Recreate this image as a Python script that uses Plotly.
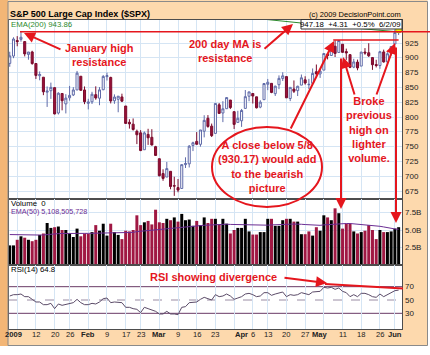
import plotly.graph_objects as go

W, H = 430, 355
RED = '#e5161d'
GRID = '#d5e5f4'
FONT = 'Liberation Sans, Arial, sans-serif'

# ---------------- data (Dec 31 2008 .. Jun 2 2009, one entry per trading day) -------------
opens = [890.59, 902.99, 929.17, 931.17, 927.45, 905.73, 909.91, 890.40, 869.79, 867.28, 841.99, 844.45, 849.64, 806.77, 839.74, 822.16, 832.50, 837.30, 845.73, 868.89, 845.69,
         823.09, 825.69, 837.77, 831.75, 846.09, 868.24, 866.87, 827.41, 829.91, 833.95, 818.61, 791.06, 787.91, 775.87, 773.25, 744.69, 770.64, 765.76, 749.93,
         729.57, 704.44, 698.60, 708.27, 684.04, 680.76, 679.28, 719.59, 720.89, 751.97, 758.84, 753.88, 776.01, 797.92, 784.58, 772.31, 820.60, 806.81, 814.06, 828.68, 809.07, 790.88,
         793.59, 814.53, 835.13, 839.75, 834.12, 816.76, 829.29, 855.33, 856.88, 839.44, 854.54, 865.18, 868.27, 831.25, 847.26, 844.62, 853.91, 862.82, 854.48, 856.85, 876.59,
         872.74, 879.21, 906.10, 903.95, 919.58, 909.03, 922.99, 910.52, 905.40, 884.24, 892.76, 886.07, 909.67, 908.62, 900.42, 888.68, 887.00, 909.95, 892.96, 907.02,
         923.26, 942.87]
highs = [910.32, 934.73, 936.63, 943.85, 927.45, 910.00, 911.93, 890.40, 877.02, 867.28, 851.59, 858.13, 849.64, 841.72, 839.74, 838.61, 852.53, 850.45, 877.86, 868.89, 851.66,
         830.78, 842.60, 851.85, 850.55, 870.75, 875.01, 868.05, 838.22, 835.48, 839.43, 818.61, 796.17, 797.58, 778.69, 777.85, 775.49, 780.12, 779.42, 751.27,
         729.57, 711.67, 724.12, 708.27, 699.09, 695.27, 719.60, 731.92, 752.63, 758.29, 774.53, 778.12, 803.04, 803.24, 788.91, 823.37, 823.65, 826.78, 832.98, 828.68, 809.07, 810.48,
         813.62, 845.61, 842.50, 839.75, 834.12, 828.42, 856.91, 864.31, 856.88, 852.93, 870.35, 875.63, 868.27, 850.09, 861.78, 852.87, 871.80, 868.83, 864.48, 882.06, 888.70,
         880.48, 907.85, 907.70, 920.28, 929.58, 930.17, 922.99, 915.57, 905.40, 898.36, 896.97, 910.00, 916.39, 924.60, 900.42, 896.65, 911.76, 913.84, 909.45, 920.02,
         947.77, 949.38]
lows = [884.88, 899.35, 919.53, 927.28, 902.37, 896.81, 888.31, 864.32, 862.02, 836.93, 817.04, 830.66, 804.47, 804.30, 811.29, 806.07, 827.69, 835.40, 845.73, 844.15, 821.67,
        812.87, 821.98, 829.18, 819.91, 845.42, 861.65, 822.99, 822.30, 808.06, 825.21, 789.17, 780.43, 777.03, 754.25, 742.37, 744.69, 752.89, 751.75, 734.52,
        699.70, 692.30, 698.60, 677.93, 666.79, 672.88, 679.28, 713.85, 714.76, 742.46, 753.37, 749.93, 765.64, 781.82, 766.20, 772.31, 805.48, 791.37, 814.06, 813.43, 779.81, 790.88,
        783.32, 814.53, 826.70, 822.79, 814.53, 814.84, 829.29, 845.35, 840.25, 835.58, 847.04, 860.87, 832.39, 826.83, 840.57, 835.45, 853.91, 854.65, 847.12, 856.85, 868.51,
        866.10, 879.21, 897.34, 903.95, 901.36, 909.03, 908.68, 896.46, 882.52, 882.52, 878.94, 886.07, 905.22, 901.37, 879.61, 883.75, 881.46, 891.87, 887.60, 903.56,
        923.26, 938.46]
closes = [903.25, 931.80, 927.45, 934.70, 906.65, 909.73, 890.35, 870.26, 871.79, 842.62, 843.74, 850.12, 805.22, 840.24, 827.50, 831.95, 836.57, 845.71, 874.09, 845.14, 825.88,
          825.44, 838.51, 832.23, 845.85, 868.60, 869.89, 827.16, 833.74, 835.19, 826.84, 789.17, 788.42, 778.94, 770.05, 743.33, 773.14, 764.90, 752.83, 735.09,
          700.82, 696.33, 712.87, 682.55, 683.38, 676.53, 719.60, 721.36, 750.74, 756.55, 753.89, 778.12, 794.35, 784.04, 768.54, 822.92, 806.12, 813.88, 832.86, 815.94, 787.53, 797.87,
          811.08, 834.38, 842.50, 835.48, 815.55, 825.16, 856.56, 858.73, 841.50, 852.06, 865.30, 869.60, 832.39, 850.08, 843.55, 851.92, 866.23, 857.51, 855.16, 873.64, 872.81,
          877.52, 907.24, 903.80, 919.53, 907.39, 929.23, 909.24, 908.35, 883.92, 893.07, 882.88, 909.71, 908.13, 903.47, 888.33, 887.00, 910.33, 893.06, 906.83, 919.14,
          942.87, 947.18]
ema200 = [1097.0, 1095.4, 1093.8, 1092.3, 1090.4, 1088.6, 1086.6, 1084.4, 1082.2, 1079.7, 1077.3, 1075.0, 1072.2, 1069.9, 1067.4, 1065.0, 1062.7, 1060.5, 1058.5, 1056.0, 1053.5,
          1051.0, 1048.8, 1046.5, 1044.4, 1042.5, 1040.6, 1038.3, 1036.0, 1033.8, 1031.5, 1028.8, 1026.2, 1023.6, 1020.9, 1018.0, 1015.6, 1013.2, 1010.6, 1007.9,
          1006.0, 1003.4, 1000.9, 998.3, 995.8, 993.3, 991.1, 989.0, 987.1, 985.4, 983.7, 982.1, 980.7, 979.2, 977.7, 976.7, 975.6, 974.6, 973.7, 972.7, 971.6, 970.6,
          969.7, 968.9, 968.2, 967.5, 966.6, 965.8, 965.2, 964.5, 963.7, 963.0, 962.4, 961.8, 960.9, 960.2, 959.5, 958.8, 958.2, 957.5, 956.8, 956.3, 955.8,
          955.0, 954.5, 954.0, 953.5, 953.0, 952.5, 952.0, 951.4, 950.8, 950.2, 949.6, 949.0, 948.4, 947.8, 947.2, 946.6, 946.0, 945.5, 945.0, 944.6,
          944.2, 943.86]
volume_b = [2.8, 2.8, 3.6, 4.1, 3.9, 3.6, 3.4, 3.6, 4.3, 4.5, 6.0, 5.3, 5.4, 5.5, 5.0, 5.0, 4.5, 4.0, 5.2, 4.1, 4.5,
            4.45, 4.7, 5.7, 4.9, 5.9, 4.2, 5.9, 4.7, 4.3, 3.7, 4.9, 4.8, 5.0, 7.1, 5.7, 6.1, 6.3, 5.8, 7.9,
            6.1, 6.0, 6.6, 6.4, 6.8, 6.2, 7.3, 6.4, 6.5, 5.6, 6.3, 5.7, 6.8, 6.0, 6.6, 6.6, 5.8, 6.6, 5.9, 4.5, 5.0, 5.3,
            5.3, 6.6, 4.8, 4.35, 4.35, 4.7, 4.7, 6.6, 6.6, 5.6, 5.6, 6.4, 6.6, 6.6, 6.2, 6.2, 4.4, 4.4, 4.8, 4.2, 5.4,
            4.9, 7.1, 6.8, 6.4, 8.1, 7.4, 5.2, 5.9, 5.9, 4.8, 4.5, 4.7, 4.9, 5.7, 5.0, 3.7, 5.0, 4.7, 4.7, 4.8,
            5.2, 5.4]
vol_ema50_b = [4.35, 4.33, 4.32, 4.31, 4.31, 4.30, 4.29, 4.28, 4.28, 4.29, 4.36, 4.40, 4.44, 4.48, 4.50, 4.52, 4.52, 4.50, 4.53, 4.52, 4.52,
               4.52, 4.53, 4.58, 4.59, 4.64, 4.62, 4.67, 4.68, 4.66, 4.63, 4.64, 4.65, 4.66, 4.77, 4.82, 4.88, 4.94, 4.98, 5.10,
               5.14, 5.18, 5.24, 5.29, 5.35, 5.39, 5.47, 5.51, 5.56, 5.58, 5.61, 5.63, 5.68, 5.70, 5.74, 5.78, 5.78, 5.82, 5.83, 5.80, 5.78, 5.77,
               5.76, 5.80, 5.77, 5.73, 5.69, 5.67, 5.65, 5.69, 5.73, 5.73, 5.73, 5.76, 5.80, 5.83, 5.85, 5.87, 5.82, 5.78, 5.75, 5.70, 5.70,
               5.67, 5.73, 5.77, 5.80, 5.89, 5.95, 5.93, 5.93, 5.93, 5.89, 5.84, 5.79, 5.75, 5.72, 5.67, 5.58, 5.53, 5.44, 5.33, 5.22,
               5.15, 5.11]
rsi14 = [56, 58, 58, 59, 55, 55, 51, 47, 47, 43, 43, 45, 37, 44, 42, 43, 44, 46, 51, 46, 43,
         43, 45, 44, 47, 52, 53, 46, 47, 47, 46, 39, 39, 37, 36, 31, 39, 37, 35, 33,
         29, 29, 33, 29, 29, 28, 39, 40, 46, 47, 47, 51, 54, 52, 50, 58, 55, 56, 59, 56, 51, 53,
         55, 59, 60, 58, 55, 56, 61, 61, 57, 59, 61, 62, 55, 58, 57, 58, 61, 59, 58, 62, 62,
         63, 69, 68, 69, 66, 68, 63, 61, 55, 58, 55, 60, 60, 58, 55, 54, 59, 55, 58, 60,
         64, 64.8]

day_idx = list(range(-1, len(closes) - 1))
for arr in (opens, highs, lows, ema200, volume_b, vol_ema50_b, rsi14):
    assert len(arr) == len(closes), len(arr)

price_ticks = [675, 700, 725, 750, 775, 800, 825, 850, 875, 900, 925]
vol_ticks = [2.5, 5.0, 7.5]
vol_tick_text = ['2.5B', '5.0B', '7.5B']
rsi_ticks = [30, 50, 70]
tick_pos = [0, 6, 11, 15, 20, 25, 30, 34, 39, 44, 49, 54, 61, 64, 68, 73, 78, 82, 88, 93, 98, 102]
tick_text = ['<b>2009</b>', '12', '20', '26', '<b>Feb</b>', '9', '17', '23', '<b>Mar</b>', '9', '16', '23',
             '<b>Apr</b>', '6', '13', '20', '27', '<b>May</b>', '11', '18', '26', '<b>Jun</b>']
week_pos = [1, 6, 11, 15, 20, 25, 30, 34, 39, 44, 49, 54, 59, 64, 68, 73, 78, 83, 88, 93, 98, 102]
jan_high = 943.85
may8_level = 930.17


def px(x):
    return x / W


def py(y):
    return 1 - y / H


vol_colors = ['#000000'] + ['#000000' if closes[i] >= closes[i - 1] else '#a01843' for i in range(1, len(closes))]

fig = go.Figure()
fig.add_trace(go.Candlestick(
    x=day_idx, open=opens, high=highs, low=lows, close=closes, xaxis='x', yaxis='y',
    increasing=dict(line=dict(color='#5f6aa8', width=1), fillcolor='#ffffff'),
    decreasing=dict(line=dict(color='#7a0b2c', width=1), fillcolor='#9a1239'),
    whiskerwidth=0, showlegend=False, hoverinfo='skip'))
fig.add_trace(go.Scatter(x=day_idx, y=ema200, mode='lines', xaxis='x', yaxis='y',
                         line=dict(color='#2d8a2d', width=1), showlegend=False, hoverinfo='skip'))
fig.add_trace(go.Scatter(x=[day_idx[-1]], y=[closes[-1]], mode='markers', xaxis='x', yaxis='y',
                         marker=dict(color='#f4f200', size=6, line=dict(color='#b0a800', width=1)),
                         showlegend=False, hoverinfo='skip'))
fig.add_trace(go.Bar(x=day_idx, y=volume_b, xaxis='x2', yaxis='y2', marker=dict(color=vol_colors, line=dict(width=0)),
                     showlegend=False, hoverinfo='skip'))
fig.add_trace(go.Scatter(x=day_idx, y=vol_ema50_b, mode='lines', xaxis='x2', yaxis='y2',
                         line=dict(color='#6b2d93', width=1), showlegend=False, hoverinfo='skip'))
fig.add_trace(go.Scatter(x=day_idx, y=rsi14, mode='lines', xaxis='x3', yaxis='y3',
                         line=dict(color='#5b4b68', width=1), showlegend=False, hoverinfo='skip'))

AXLINE = '#4d4d4d'
xcommon = dict(range=[-1.2, 103.9], domain=[px(9), px(402)], showline=True, linecolor=AXLINE, linewidth=1,
               mirror=True, tickmode='array', tickvals=tick_pos, ticktext=tick_text, ticks='', showgrid=False,
               zeroline=False, fixedrange=True, showticklabels=False,
               minor=dict(tickmode='array', tickvals=week_pos, showgrid=True, gridcolor=GRID, gridwidth=1, ticks=''))
ycommon = dict(side='right', showline=True, linecolor=AXLINE, linewidth=1, mirror=True, zeroline=False, ticks='',
               showticklabels=False, fixedrange=True, tickmode='array')

fig.update_layout(
    width=W, height=H, autosize=False, margin=dict(l=0, r=0, t=0, b=0),
    paper_bgcolor='#fdd9ad', plot_bgcolor='#ffffff', showlegend=False, hovermode=False,
    bargap=0.2, boxgap=0.22,
    xaxis=dict(xcommon, anchor='y', rangeslider=dict(visible=False)),
    xaxis2=dict(xcommon, anchor='y2'),
    xaxis3=dict(xcommon, anchor='y3'),
    yaxis=dict(ycommon, anchor='x', domain=[py(199), py(20)], range=[661.5, 963.9], tickvals=price_ticks,
               showgrid=True, gridcolor=GRID),
    yaxis2=dict(ycommon, anchor='x2', domain=[py(265), py(199)], range=[0, 9.43], tickvals=vol_ticks,
                showgrid=True, gridcolor=GRID),
    yaxis3=dict(ycommon, anchor='x3', domain=[py(329), py(265)], range=[6.45, 102.55], tickvals=rsi_ticks,
                showgrid=False),
)


def pline(x0, y0, x1, y1, color, width, dash='solid'):
    return dict(type='line', xref='paper', yref='paper', x0=px(x0), y0=py(y0), x1=px(x1), y1=py(y1),
                line=dict(color=color, width=width, dash=dash), layer='above')


def prect(x0, y0, x1, y1, fill, line_color=None, lw=0, layer='above'):
    return dict(type='rect', xref='paper', yref='paper', x0=px(x0), y0=py(y0), x1=px(x1), y1=py(y1),
                fillcolor=fill, line=dict(color=line_color or fill, width=lw), layer=layer)


shapes = [
    prect(427.5, 0, 430, 355, '#ffffff'),
    prect(0, 346, 430, 355, '#ffffff'),
    prect(0, 0, 8, 346, '#f3b676', layer='below'),
    dict(type='rect', xref='paper', yref='paper', x0=px(8), y0=py(345.5), x1=px(427.5), y1=py(1.5),
         line=dict(color='#8a8a8a', width=1), fillcolor='rgba(0,0,0,0)', layer='above'),
    # RSI reference lines
    dict(type='line', xref='x3 domain', yref='y3', x0=0, x1=1, y0=70, y1=70, line=dict(color='#6a3a66', width=1), layer='below'),
    dict(type='line', xref='x3 domain', yref='y3', x0=0, x1=1, y0=30, y1=30, line=dict(color='#6a3a66', width=1), layer='below'),
    dict(type='line', xref='x3 domain', yref='y3', x0=0, x1=1, y0=50, y1=50, line=dict(color='#9a8ca4', width=1, dash='dash'), layer='below'),
    # quote box
    prect(301, 19.5, 402, 29, '#ffffff', '#333333', 1),
    # red resistance lines
    dict(type='line', xref='paper', yref='y', x0=px(20), x1=1, y0=jan_high, y1=jan_high,
         line=dict(color=RED, width=1.5), layer='above'),
    dict(type='line', xref='x', yref='y', x0=85.5, x1=103, y0=may8_level, y1=may8_level,
         line=dict(color=RED, width=1.5), layer='above'),
    # ellipse
    dict(type='circle', xref='paper', yref='paper', x0=px(212), x1=px(322), y0=py(207), y1=py(127),
         line=dict(color=RED, width=2), layer='above'),
    # RSI divergence line
    pline(325, 284, 403, 288.5, RED, 2),
]


def txt(x, y, s, size, color='#000000', xanchor='left', align='left'):
    return dict(x=px(x), y=py(y), xref='paper', yref='paper', text=s, showarrow=False, xanchor=xanchor,
                yanchor='middle', align=align, font=dict(family=FONT, size=size, color=color), borderpad=0)


def arrow(hx, hy, tx, ty):
    return dict(x=px(hx), y=py(hy), xref='paper', yref='paper', ax=tx - hx, ay=ty - hy, axref='pixel',
                ayref='pixel', text='', showarrow=True, arrowhead=2, arrowsize=1.1, arrowwidth=2,
                arrowcolor=RED, standoff=0)


annotations = []
# right-hand axis labels, positioned by the axes' own scales
for v in price_ticks:
    annotations.append(dict(x=px(404), xref='paper', y=v, yref='y', text=str(v), showarrow=False, xanchor='left',
                            yanchor='middle', font=dict(family=FONT, size=8, color='#222222'), borderpad=0))
for v, t in zip(vol_ticks, vol_tick_text):
    annotations.append(dict(x=px(404), xref='paper', y=v, yref='y2', text=t, showarrow=False, xanchor='left',
                            yanchor='middle', font=dict(family=FONT, size=8, color='#222222'), borderpad=0))
for v in rsi_ticks:
    annotations.append(dict(x=px(404), xref='paper', y=v, yref='y3', text=str(v), showarrow=False, xanchor='left',
                            yanchor='middle', font=dict(family=FONT, size=8, color='#222222'), borderpad=0))
# date labels
for p, t in zip(tick_pos, tick_text):
    annotations.append(dict(x=p, xref='x3', y=py(334.5), yref='paper', text=t, showarrow=False, xanchor='center',
                            yanchor='middle', font=dict(family=FONT, size=7.6, color='#222222'), borderpad=0))

annotations += [
    txt(8.5, 14.5, '<b>S&P 500 Large Cap Index ($SPX)</b>', 9),
    txt(402, 15, '(c) 2009 DecisionPoint.com', 7.5, xanchor='right'),
    txt(10, 24.5, 'EMA(200) 943.86', 7.8, color='#2d8a2d'),
    txt(401.5, 24.5, '947.18  +4.31  +0.5%  6/2/09', 7.8, xanchor='right'),
    txt(10, 203, 'Volume  0', 7.8),
    txt(10, 211.5, 'EMA(50) 5,108,505,728', 7.2, color='#6b2d93'),
    txt(10, 269, 'RSI(14) 64.8', 7.8),
    txt(99, 54.5, '<b>January high<br>resistance</b>', 11, color=RED, xanchor='center', align='center'),
    txt(188, 51, '<b>200 day MA is<br>resistance</b>', 11, color=RED, xanchor='left', align='center'),
    txt(267, 166.5, '<b>A close below 5/8<br>(930.17) would add<br>to the bearish<br>picture</b>', 11, color=RED,
        xanchor='center', align='center'),
    txt(369, 130, '<b>Broke<br>previous<br>high on<br>lighter<br>volume.</b>', 11, color=RED,
        xanchor='center', align='center'),
    txt(213, 277, '<b>RSI showing divergence</b>', 11, color=RED, xanchor='center', align='center'),
    arrow(24, 33, 62, 50),
    arrow(293, 24, 263, 50),
    arrow(334, 41, 290, 130),
    arrow(343, 57, 355, 96),
    arrow(395, 43, 376, 96),
    arrow(341, 209, 341, 57),
    arrow(396, 223, 396, 46),
    arrow(327, 283, 283, 277.5),
]

fig.update_layout(shapes=shapes, annotations=annotations)
fig.write_html('out.html', config={'displayModeBar': False, 'staticPlot': True},
               post_script="document.body.style.margin='0px';document.body.style.padding='0px';")
